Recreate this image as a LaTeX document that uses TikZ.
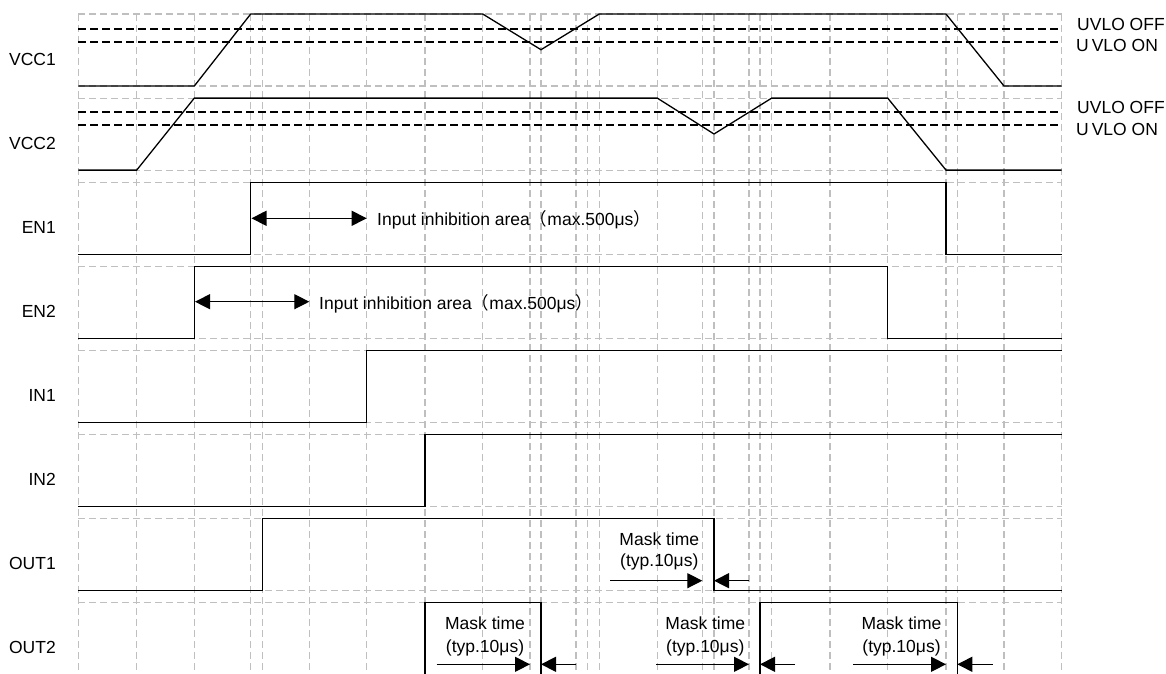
\documentclass[tikz,border=0pt]{standalone}
\usepackage{fontspec}
\setmainfont{Liberation Sans}
\newfontfamily\cjk{Noto Sans CJK JP}
\usetikzlibrary{arrows.meta}
\begin{document}
\begin{tikzpicture}[x=1pt,y=-1pt,
  gridline/.style={draw=black!25, line width=1.1pt, dash pattern=on 7pt off 4pt},
  uvlo/.style={draw=black, line width=1.4pt, dash pattern=on 8pt off 4pt},
  wave/.style={draw=black, line width=1.3pt, line join=miter},
  lbl/.style={font=\fontsize{17.5}{21}\selectfont, inner sep=0pt},
  dimarrow/.style={draw=black, line width=1.2pt, -{Triangle[length=15pt,width=15pt]}},
  bothway/.style={draw=black, line width=1.2pt, {Triangle[length=15pt,width=15pt]}-{Triangle[length=15pt,width=15pt]}},
  ]
\useasboundingbox (0,0) rectangle (1166,673);
% vertical grid
\foreach \x in {78.3,136.7,194.3,250.7,262.7,309.3,366.7,425,482.7,530,541,576,587.7,599.3,657.3,702.3,714,749,760,771.7,830,887.7,946,957.3,1004,1061.7}
  \draw[gridline] (\x,14) -- (\x,673);
% horizontal grid
\foreach \t in {14,98.1,182.2,266.3,350.4,434.5,518.6,602.7} {
  \draw[gridline] (78.3,\t) -- (1061.7,\t);
  \draw[gridline] (78.3,\t+72) -- (1061.7,\t+72);
}
% UVLO thresholds
\draw[uvlo] (78.3,29) -- (1061.7,29);
\draw[uvlo] (78.3,42) -- (1061.7,42);
\draw[uvlo] (78.3,112) -- (1061.7,112);
\draw[uvlo] (78.3,125) -- (1061.7,125);
\node[lbl, anchor=base west] (uoff1) at (1077,30.7) {UVLO OFF};
\node[lbl, anchor=base west] (uon1) at (1076,51.7) {U\,VLO ON};
\node[lbl, anchor=base west] (uoff2) at (1077,113.3) {UVLO OFF};
\node[lbl, anchor=base west] (uon2) at (1076,135) {U\,VLO ON};
% signal labels
\node[lbl, anchor=base east] (lvcc1) at (56,65) {VCC1};
\node[lbl, anchor=base east] (lvcc2) at (56,149.1) {VCC2};
\node[lbl, anchor=base east] (len1) at (56,233.2) {EN1};
\node[lbl, anchor=base east] (len2) at (56,317.3) {EN2};
\node[lbl, anchor=base east] (lin1) at (56,401.4) {IN1};
\node[lbl, anchor=base east] (lin2) at (56,485.5) {IN2};
\node[lbl, anchor=base east] (lout1) at (56,569.6) {OUT1};
\node[lbl, anchor=base east] (lout2) at (56,653.7) {OUT2};
% waveforms
\draw[wave] (78.3,86) -- (194.3,86) -- (250.7,14) -- (482.7,14) -- (541,49.7) -- (599.3,14) -- (946,14) -- (1004,86) -- (1061.7,86);
\draw[wave] (78.3,170.1) -- (136.7,170.1) -- (194.3,98.1) -- (657.3,98.1) -- (714,134) -- (771.7,98.1) -- (887.7,98.1) -- (946,170.1) -- (1061.7,170.1);
\draw[wave] (78.3,254.2) -- (250.7,254.2) -- (250.7,182.2) -- (946,182.2) -- (946,254.2) -- (1061.7,254.2);
\draw[wave] (78.3,338.3) -- (194.3,338.3) -- (194.3,266.3) -- (887.7,266.3) -- (887.7,338.3) -- (1061.7,338.3);
\draw[wave] (78.3,422.4) -- (366.7,422.4) -- (366.7,350.4) -- (1061.7,350.4);
\draw[wave] (78.3,506.5) -- (425,506.5) -- (425,434.5) -- (1061.7,434.5);
\draw[wave] (78.3,590.6) -- (262.7,590.6) -- (262.7,518.6) -- (714,518.6) -- (714,590.6) -- (1061.7,590.6);
\draw[wave] (78.3,674.7) -- (425,674.7) -- (425,602.7) -- (541,602.7) -- (541,674.7) -- (760,674.7) -- (760,602.7) -- (957.3,602.7) -- (957.3,674.7) -- (1061.7,674.7);
% input inhibition arrows
\coordinate (en1a) at (251.5,218.3);
\coordinate (en1b) at (366.7,218.3);
\draw[bothway] (en1a) -- (en1b);
\node[lbl, anchor=base west] (en1t) at (377,225) {Input inhibition area{\cjk （}max.500μs{\cjk ）}};
\coordinate (en2a) at (195,301.7);
\coordinate (en2b) at (309.3,301.7);
\draw[bothway] (en2a) -- (en2b);
\node[lbl, anchor=base west] (en2t) at (319,309.3) {Input inhibition area{\cjk （}max.500μs{\cjk ）}};
% mask time OUT1
\coordinate (m1a) at (610,580.7);   \coordinate (m1b) at (702.3,580.7);
\coordinate (m1c) at (749,580.7);   \coordinate (m1d) at (714,580.7);
\draw[dimarrow] (m1a) -- (m1b);
\draw[dimarrow] (m1c) -- (m1d);
\node[lbl, anchor=base] (m1t1) at (659.3,545) {Mask time};
\node[lbl, anchor=base] (m1t2) at (659.3,566.5) {(typ.10μs)};
% mask time OUT2 #1
\coordinate (m2a) at (436.7,664.3); \coordinate (m2b) at (530,664.3);
\coordinate (m2c) at (576,664.3);   \coordinate (m2d) at (541,664.3);
\draw[dimarrow] (m2a) -- (m2b);
\draw[dimarrow] (m2c) -- (m2d);
\node[lbl, anchor=base] (m2t1) at (485,629.3) {Mask time};
\node[lbl, anchor=base] (m2t2) at (485,652.5) {(typ.10μs)};
% mask time OUT2 #2
\coordinate (m3a) at (656,664.3);   \coordinate (m3b) at (749,664.3);
\coordinate (m3c) at (795,664.3);   \coordinate (m3d) at (760,664.3);
\draw[dimarrow] (m3a) -- (m3b);
\draw[dimarrow] (m3c) -- (m3d);
\node[lbl, anchor=base] (m3t1) at (705.3,629.3) {Mask time};
\node[lbl, anchor=base] (m3t2) at (705.3,652.5) {(typ.10μs)};
% mask time OUT2 #3
\coordinate (m4a) at (853.3,664.3); \coordinate (m4b) at (946,664.3);
\coordinate (m4c) at (992.7,664.3); \coordinate (m4d) at (957.3,664.3);
\draw[dimarrow] (m4a) -- (m4b);
\draw[dimarrow] (m4c) -- (m4d);
\node[lbl, anchor=base] (m4t1) at (901.5,629.3) {Mask time};
\node[lbl, anchor=base] (m4t2) at (901.5,652.5) {(typ.10μs)};
\end{tikzpicture}
\end{document}
